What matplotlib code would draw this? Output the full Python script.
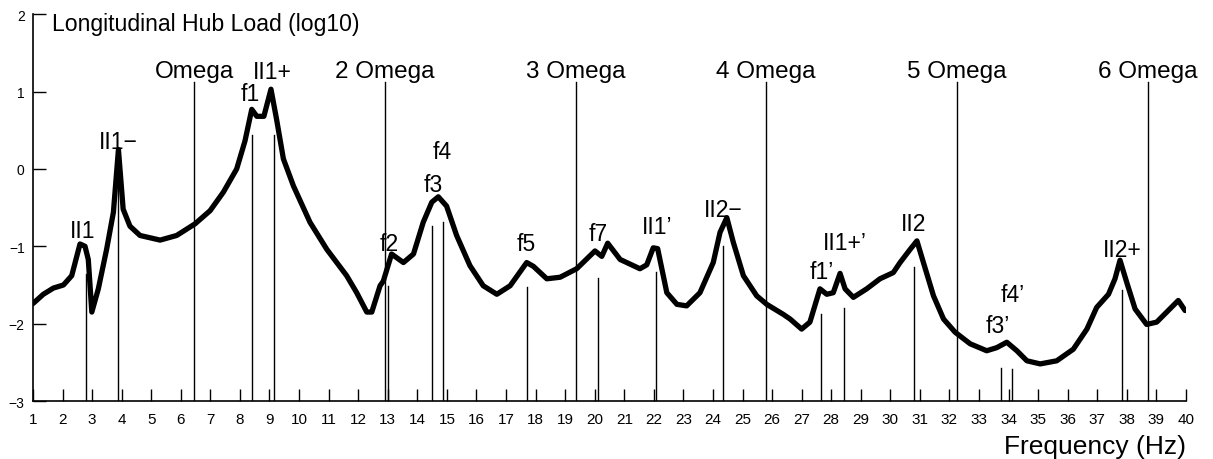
import numpy as np
import matplotlib.pyplot as plt

plt.rcParams['font.family'] = ['Liberation Sans', 'DejaVu Sans']

# hub load spectrum, log10 scale
freq = [1.00, 1.35, 1.69, 2.03, 2.31, 2.59, 2.76, 2.87, 2.99, 3.21, 3.49, 3.72,
        3.89, 4.05, 4.28, 4.62, 5.30, 5.86, 6.48, 6.99, 7.44, 7.89, 8.17, 8.40,
        8.57, 8.81, 9.05, 9.24, 9.47, 9.81, 10.37, 10.94, 11.61, 11.95, 12.29,
        12.46, 12.74, 12.85, 13.13, 13.53, 13.87, 14.20, 14.49, 14.71, 14.99,
        15.33, 15.78, 16.23, 16.69, 17.14, 17.70, 17.93, 18.38, 18.83, 19.39,
        20.01, 20.24, 20.44, 20.86, 21.53, 21.76, 21.98, 22.13, 22.44, 22.78,
        23.11, 23.56, 24.01, 24.24, 24.47, 24.69, 25.03, 25.48, 25.82, 26.38,
        26.61, 27.00, 27.28, 27.62, 27.85, 28.07, 28.30, 28.47, 28.75, 29.20,
        29.65, 30.10, 30.33, 30.67, 30.90, 31.12, 31.46, 31.80, 32.19, 32.70,
        33.26, 33.60, 33.94, 34.28, 34.62, 35.07, 35.63, 36.19, 36.65, 36.98,
        37.38, 37.60, 37.77, 38.00, 38.28, 38.67, 39.01, 39.35, 39.74, 39.97]
load = [-1.74, -1.62, -1.54, -1.50, -1.38, -0.97, -1.00, -1.17, -1.85, -1.55,
        -1.04, -0.56, 0.25, -0.52, -0.74, -0.86, -0.92, -0.86, -0.71, -0.54,
        -0.30, 0.00, 0.36, 0.77, 0.68, 0.68, 1.03, 0.64, 0.13, -0.22, -0.69,
        -1.04, -1.38, -1.60, -1.85, -1.85, -1.51, -1.45, -1.10, -1.21, -1.10,
        -0.69, -0.43, -0.36, -0.48, -0.86, -1.25, -1.51, -1.62, -1.51, -1.21,
        -1.26, -1.42, -1.40, -1.29, -1.06, -1.13, -0.96, -1.17, -1.29, -1.24,
        -1.02, -1.03, -1.60, -1.75, -1.77, -1.60, -1.21, -0.82, -0.63, -0.95,
        -1.38, -1.64, -1.75, -1.88, -1.94, -2.07, -1.98, -1.55, -1.62, -1.60,
        -1.35, -1.55, -1.66, -1.55, -1.42, -1.34, -1.21, -1.04, -0.93, -1.21,
        -1.64, -1.94, -2.11, -2.26, -2.35, -2.31, -2.24, -2.35, -2.48, -2.52,
        -2.48, -2.33, -2.07, -1.79, -1.62, -1.42, -1.18, -1.47, -1.81, -2.01,
        -1.98, -1.85, -1.70, -1.83]

# rotor harmonics
omega_names = ["Omega", "2 Omega", "3 Omega", "4 Omega", "5 Omega", "6 Omega"]
omega_freq = [6.46, 12.91, 19.37, 25.78, 32.24, 38.70]
omega_top = 1.12

# identified modes: name, frequency, marker height
mode_names = ["II1", "II1\u2212", "f1", "II1+", "f2", "f3", "f4", "f5", "f7",
              "II1\u2019", "II2\u2212", "f1\u2019", "II1+\u2019", "II2",
              "f3\u2019", "f4\u2019", "II2+"]
mode_freq = [2.78, 3.89, 8.40, 9.16, 13.02, 14.49, 14.86, 17.70, 20.12,
             22.08, 24.35, 27.65, 28.44, 30.81, 33.76, 34.13, 37.85]
mode_top = [-1.36, 0.20, 0.44, 0.44, -1.51, -0.74, -0.69, -1.53, -1.41,
            -1.33, -0.99, -1.88, -1.80, -1.27, -2.57, -2.58, -1.57]

# label anchor (x, y) for each mode name
mode_label_pos = [(2.69, -0.80), (3.88, 0.36), (8.34, 0.97), (9.08, 1.26),
                  (13.04, -0.97), (14.55, -0.20), (14.83, 0.23), (17.70, -0.97),
                  (20.12, -0.84), (22.10, -0.75), (24.34, -0.52), (27.68, -1.32),
                  (28.47, -0.95), (30.80, -0.71), (33.65, -2.03), (34.15, -1.62),
                  (37.83, -1.04)]

fig = plt.figure(figsize=(12.13, 4.6), dpi=100)
ax = fig.add_axes([0.0272, 0.126, 0.9505, 0.841])

ymin = -3
for x, name in zip(omega_freq, omega_names):
    ax.plot([x, x], [ymin, omega_top], color="black", lw=1.0)
    ax.text(x, 1.26, name, ha="center", va="center", fontsize=17.5)

for x, top in zip(mode_freq, mode_top):
    ax.plot([x, x], [ymin, top], color="black", lw=1.0)

for name, (x, y) in zip(mode_names, mode_label_pos):
    ax.text(x, y, name, ha="center", va="center", fontsize=16.5)

ax.plot(freq, load, color="black", lw=3.8, solid_joinstyle="round",
        solid_capstyle="round")

ax.set_xlim(1, 40)
ax.set_ylim(-3, 2)
ax.set_xticks(range(1, 41))
ax.set_yticks([-3, -2, -1, 0, 1, 2])
ax.tick_params(axis="x", direction="in", length=9, width=1, labelsize=11, pad=8)
ax.tick_params(axis="y", direction="in", length=9, width=1, labelsize=10, pad=6)
for s in ["top", "right"]:
    ax.spines[s].set_visible(False)
for s in ["left", "bottom"]:
    ax.spines[s].set_linewidth(1.2)

ax.text(1.64, 1.88, "Longitudinal Hub Load (log10)", ha="left", va="center",
        fontsize=16.6, clip_on=False)
ax.text(1.0, -0.115, "Frequency (Hz)", transform=ax.transAxes, ha="right",
        va="center", fontsize=19)

fig.savefig("out.png", dpi=100)
